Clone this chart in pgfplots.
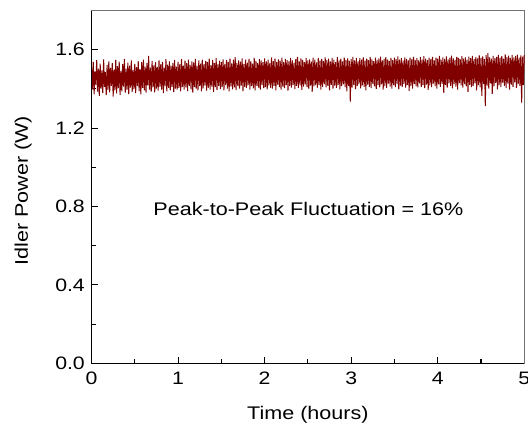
\documentclass[border=0pt]{standalone}
\usepackage{fontspec}
\setmainfont[FakeStretch=1.18]{Liberation Sans}
\usepackage{pgfplots}
\pgfplotsset{compat=1.18}
\definecolor{dred}{RGB}{128,0,0}
\begin{document}
\begin{tikzpicture}
\begin{axis}[
  scale only axis, width=324.4pt, height=264.4pt,
  xmin=0, xmax=5, ymin=0, ymax=1.8,
  xtick={0,1,2,3,4,5}, ytick={0,0.4,0.8,1.2,1.6},
  minor x tick num=1, minor y tick num=1,
  tick align=inside, xtick pos=bottom, ytick pos=left,
  major tick length=5pt, minor tick length=3pt,
  every tick/.style={black, line width=0.8pt},
  axis line style={black!55, line width=0.6pt},
  /pgf/number format/assume math mode=true,
  ticklabel style={font=\fontsize{13.5}{16}\selectfont},
  yticklabel style={/pgf/number format/.cd, fixed, fixed zerofill, precision=1, /tikz/.cd, xshift=-1.5pt},
  xticklabel style={yshift=-3pt},
  scaled ticks=false,
  xlabel={Time (hours)}, ylabel={Idler Power (W)},
  label style={font=\fontsize{13.7}{16}\selectfont},
  xlabel style={at={(axis description cs:0.5,-0.122)}, anchor=north, inner sep=0pt},
  ylabel style={at={(axis description cs:-0.1376,0.489)}, anchor=south, inner sep=0pt},
  clip=false,
]
\addplot[color=dred, line width=0.75pt, mark=none, line join=bevel] coordinates {
(0.00,1.512) (0.01,1.398) (0.02,1.538) (0.03,1.372) (0.04,1.489) (0.05,1.421) (0.06,1.547) (0.07,1.386) (0.08,1.503) (0.09,1.365)
(0.10,1.529) (0.11,1.402) (0.12,1.495) (0.13,1.379) (0.14,1.551) (0.15,1.410) (0.16,1.486) (0.17,1.368) (0.18,1.522) (0.19,1.395)
(0.20,1.541) (0.21,1.383) (0.22,1.507) (0.23,1.415) (0.24,1.532) (0.25,1.361) (0.26,1.498) (0.27,1.392) (0.28,1.548) (0.29,1.377)
(0.30,1.516) (0.31,1.404) (0.32,1.539) (0.33,1.370) (0.34,1.492) (0.35,1.388) (0.36,1.527) (0.37,1.412) (0.38,1.553) (0.39,1.381)
(0.40,1.503) (0.41,1.396) (0.42,1.534) (0.43,1.374) (0.44,1.519) (0.45,1.407) (0.46,1.545) (0.47,1.385) (0.48,1.497) (0.49,1.399)
(0.50,1.528) (0.51,1.378) (0.52,1.511) (0.53,1.415) (0.54,1.540) (0.55,1.389) (0.56,1.502) (0.57,1.372) (0.58,1.536) (0.59,1.405)
(0.60,1.549) (0.61,1.393) (0.62,1.514) (0.63,1.381) (0.64,1.531) (0.65,1.418) (0.66,1.568) (0.67,1.397) (0.68,1.508) (0.69,1.386)
(0.70,1.543) (0.71,1.408) (0.72,1.520) (0.73,1.383) (0.74,1.537) (0.75,1.401) (0.76,1.512) (0.77,1.391) (0.78,1.546) (0.79,1.412)
(0.80,1.525) (0.81,1.396) (0.82,1.538) (0.83,1.379) (0.84,1.509) (0.85,1.414) (0.86,1.552) (0.87,1.388) (0.88,1.524) (0.89,1.406)
(0.90,1.541) (0.91,1.392) (0.92,1.517) (0.93,1.410) (0.94,1.533) (0.95,1.384) (0.96,1.548) (0.97,1.402) (0.98,1.513) (0.99,1.397)
(1.00,1.539) (1.01,1.405) (1.02,1.526) (1.03,1.387) (1.04,1.552) (1.05,1.411) (1.06,1.519) (1.07,1.396) (1.08,1.544) (1.09,1.408)
(1.10,1.531) (1.11,1.389) (1.12,1.549) (1.13,1.416) (1.14,1.522) (1.15,1.398) (1.16,1.541) (1.17,1.381) (1.18,1.535) (1.19,1.409)
(1.20,1.553) (1.21,1.401) (1.22,1.518) (1.23,1.393) (1.24,1.546) (1.25,1.414) (1.26,1.529) (1.27,1.388) (1.28,1.550) (1.29,1.403)
(1.30,1.527) (1.31,1.418) (1.32,1.543) (1.33,1.391) (1.34,1.536) (1.35,1.406) (1.36,1.555) (1.37,1.397) (1.38,1.521) (1.39,1.412)
(1.40,1.548) (1.41,1.385) (1.42,1.532) (1.43,1.409) (1.44,1.557) (1.45,1.395) (1.46,1.525) (1.47,1.416) (1.48,1.544) (1.49,1.399)
(1.50,1.536) (1.51,1.410) (1.52,1.551) (1.53,1.392) (1.54,1.528) (1.55,1.419) (1.56,1.547) (1.57,1.401) (1.58,1.538) (1.59,1.387)
(1.60,1.554) (1.61,1.413) (1.62,1.530) (1.63,1.398) (1.64,1.549) (1.65,1.408) (1.66,1.562) (1.67,1.394) (1.68,1.533) (1.69,1.415)
(1.70,1.545) (1.71,1.402) (1.72,1.539) (1.73,1.417) (1.74,1.556) (1.75,1.389) (1.76,1.527) (1.77,1.411) (1.78,1.550) (1.79,1.405)
(1.80,1.534) (1.81,1.420) (1.82,1.553) (1.83,1.397) (1.84,1.541) (1.85,1.414) (1.86,1.529) (1.87,1.403) (1.88,1.558) (1.89,1.392)
(1.90,1.543) (1.91,1.416) (1.92,1.531) (1.93,1.407) (1.94,1.552) (1.95,1.396) (1.96,1.546) (1.97,1.419) (1.98,1.537) (1.99,1.404)
(2.00,1.556) (2.01,1.411) (2.02,1.540) (2.03,1.398) (2.04,1.549) (2.05,1.418) (2.06,1.533) (2.07,1.406) (2.08,1.561) (2.09,1.401)
(2.10,1.542) (2.11,1.415) (2.12,1.555) (2.13,1.393) (2.14,1.538) (2.15,1.422) (2.16,1.551) (2.17,1.409) (2.18,1.544) (2.19,1.396)
(2.20,1.559) (2.21,1.412) (2.22,1.536) (2.23,1.404) (2.24,1.553) (2.25,1.419) (2.26,1.547) (2.27,1.391) (2.28,1.540) (2.29,1.414)
(2.30,1.557) (2.31,1.407) (2.32,1.545) (2.33,1.421) (2.34,1.534) (2.35,1.399) (2.36,1.552) (2.37,1.416) (2.38,1.563) (2.39,1.405)
(2.40,1.541) (2.41,1.418) (2.42,1.556) (2.43,1.395) (2.44,1.548) (2.45,1.412) (2.46,1.537) (2.47,1.423) (2.48,1.558) (2.49,1.409)
(2.50,1.546) (2.51,1.401) (2.52,1.551) (2.53,1.417) (2.54,1.539) (2.55,1.385) (2.56,1.560) (2.57,1.413) (2.58,1.549) (2.59,1.420)
(2.60,1.535) (2.61,1.406) (2.62,1.557) (2.63,1.419) (2.64,1.544) (2.65,1.397) (2.66,1.553) (2.67,1.411) (2.68,1.542) (2.69,1.424)
(2.70,1.561) (2.71,1.408) (2.72,1.547) (2.73,1.415) (2.74,1.555) (2.75,1.393) (2.76,1.540) (2.77,1.421) (2.78,1.558) (2.79,1.402)
(2.80,1.549) (2.81,1.417) (2.82,1.536) (2.83,1.405) (2.84,1.562) (2.85,1.420) (2.86,1.545) (2.87,1.398) (2.88,1.554) (2.89,1.414)
(2.90,1.541) (2.91,1.423) (2.92,1.559) (2.93,1.409) (2.94,1.548) (2.95,1.388) (2.96,1.556) (2.97,1.416) (2.98,1.543) (2.99,1.335)
(3.00,1.552) (3.01,1.407) (3.02,1.564) (3.03,1.421) (3.04,1.546) (3.05,1.399) (3.06,1.558) (3.07,1.414) (3.08,1.540) (3.09,1.425)
(3.10,1.557) (3.11,1.403) (3.12,1.549) (3.13,1.418) (3.14,1.561) (3.15,1.410) (3.16,1.544) (3.17,1.392) (3.18,1.555) (3.19,1.422)
(3.20,1.547) (3.21,1.411) (3.22,1.563) (3.23,1.404) (3.24,1.551) (3.25,1.426) (3.26,1.542) (3.27,1.413) (3.28,1.559) (3.29,1.400)
(3.30,1.548) (3.31,1.419) (3.32,1.556) (3.33,1.408) (3.34,1.565) (3.35,1.423) (3.36,1.545) (3.37,1.396) (3.38,1.553) (3.39,1.416)
(3.40,1.562) (3.41,1.405) (3.42,1.550) (3.43,1.427) (3.44,1.543) (3.45,1.412) (3.46,1.558) (3.47,1.401) (3.48,1.547) (3.49,1.420)
(3.50,1.560) (3.51,1.409) (3.52,1.552) (3.53,1.424) (3.54,1.566) (3.55,1.398) (3.56,1.549) (3.57,1.417) (3.58,1.557) (3.59,1.411)
(3.60,1.544) (3.61,1.426) (3.62,1.561) (3.63,1.406) (3.64,1.553) (3.65,1.421) (3.66,1.546) (3.67,1.389) (3.68,1.559) (3.69,1.415)
(3.70,1.551) (3.71,1.402) (3.72,1.564) (3.73,1.425) (3.74,1.548) (3.75,1.413) (3.76,1.557) (3.77,1.408) (3.78,1.545) (3.79,1.428)
(3.80,1.562) (3.81,1.410) (3.82,1.550) (3.83,1.419) (3.84,1.567) (3.85,1.404) (3.86,1.554) (3.87,1.422) (3.88,1.547) (3.89,1.395)
(3.90,1.559) (3.91,1.418) (3.92,1.552) (3.93,1.409) (3.94,1.563) (3.95,1.427) (3.96,1.546) (3.97,1.414) (3.98,1.560) (3.99,1.401)
(4.00,1.555) (4.01,1.423) (4.02,1.568) (4.03,1.411) (4.04,1.549) (4.05,1.426) (4.06,1.561) (4.07,1.380) (4.08,1.553) (4.09,1.419)
(4.10,1.566) (4.11,1.407) (4.12,1.551) (4.13,1.428) (4.14,1.559) (4.15,1.415) (4.16,1.570) (4.17,1.403) (4.18,1.556) (4.19,1.424)
(4.20,1.548) (4.21,1.412) (4.22,1.563) (4.23,1.397) (4.24,1.558) (4.25,1.429) (4.26,1.552) (4.27,1.418) (4.28,1.567) (4.29,1.406)
(4.30,1.554) (4.31,1.425) (4.32,1.561) (4.33,1.413) (4.34,1.549) (4.35,1.385) (4.36,1.565) (4.37,1.421) (4.38,1.557) (4.39,1.409)
(4.40,1.569) (4.41,1.416) (4.42,1.553) (4.43,1.430) (4.44,1.562) (4.45,1.392) (4.46,1.556) (4.47,1.419) (4.48,1.571) (4.49,1.408)
(4.50,1.558) (4.51,1.365) (4.52,1.566) (4.53,1.424) (4.54,1.552) (4.55,1.312) (4.56,1.572) (4.57,1.417) (4.58,1.583) (4.59,1.402)
(4.60,1.561) (4.61,1.428) (4.62,1.555) (4.63,1.375) (4.64,1.569) (4.65,1.413) (4.66,1.557) (4.67,1.431) (4.68,1.564) (4.69,1.398)
(4.70,1.573) (4.71,1.420) (4.72,1.559) (4.73,1.409) (4.74,1.567) (4.75,1.432) (4.76,1.554) (4.77,1.415) (4.78,1.576) (4.79,1.404)
(4.80,1.562) (4.81,1.427) (4.82,1.570) (4.83,1.396) (4.84,1.558) (4.85,1.422) (4.86,1.574) (4.87,1.411) (4.88,1.561) (4.89,1.433)
(4.90,1.568) (4.91,1.405) (4.92,1.575) (4.93,1.424) (4.94,1.560) (4.95,1.416) (4.96,1.571) (4.97,1.330) (4.98,1.565) (4.99,1.420)
(5.00,1.572)
};
\node[anchor=base, inner sep=0pt, font=\fontsize{13.7}{16}\selectfont] at (axis cs:2.506,0.756) {Peak-to-Peak Fluctuation = 16\%};
\draw[black, line width=1.1pt] (rel axis cs:0,1) -- (rel axis cs:0,0) -- (rel axis cs:1,0);
\coordinate (ll) at (rel axis cs:0,0);
\coordinate (ur) at (rel axis cs:1,1);
\end{axis}
\pgfresetboundingbox
\path[use as bounding box] ([xshift=-68.6pt,yshift=-50.25pt]ll) rectangle ([xshift=2.8pt,yshift=7.9pt]ur);
\end{tikzpicture}
\end{document}
